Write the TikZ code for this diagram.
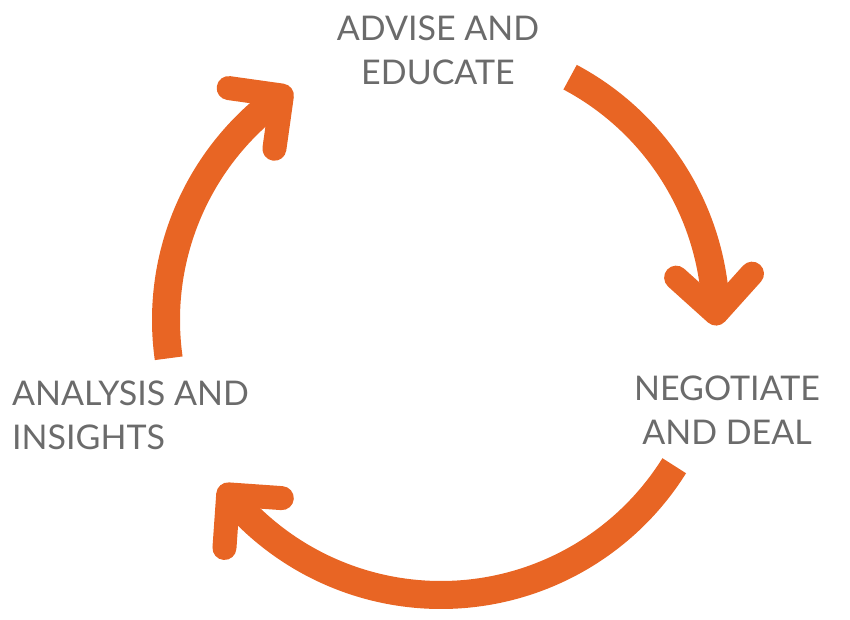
\documentclass[tikz,border=0pt]{standalone}
\usepackage{fontspec}
\setmainfont{Lato}
\definecolor{org}{HTML}{E86524}
\definecolor{txt}{HTML}{6B6B6B}
\begin{document}
\begin{tikzpicture}[x=1pt,y=1pt,
  ring/.style={draw=org,line width=28pt},
  chev/.style={draw=org,line width=24pt,line cap=round,line join=round},
  lbl/.style={text=txt,font=\fontsize{34}{44}\selectfont,inner sep=0pt}]
\useasboundingbox (0,0) rectangle (850,620);
\coordinate (c) at (441,300);
\draw[ring] ([shift={(62:275)}]c) arc (62:3:275) coordinate (e1);
\draw[ring] ([shift={(-32:275)}]c) arc (-32:-139:275) coordinate (e2);
\draw[ring] ([shift={(188:275)}]c) arc (188:127:275) coordinate (e3);
\begin{scope}[shift={(e1)},rotate=-87]
  \draw[chev] (-30,38) -- (8,0) -- (-30,-38);
\end{scope}
\begin{scope}[shift={(e2)},rotate=-229]
  \draw[chev] (-30,38) -- (8,0) -- (-30,-38);
\end{scope}
\begin{scope}[shift={(e3)},rotate=37]
  \draw[chev] (-30,38) -- (8,0) -- (-30,-38);
\end{scope}
\node[lbl,align=center] (t1) at (438,570) {ADVISE AND\\EDUCATE};
\node[lbl,align=left,anchor=west] (t2) at (12,205) {ANALYSIS AND\\INSIGHTS};
\node[lbl,align=center] (t3) at (727,210) {NEGOTIATE\\AND DEAL};
\end{tikzpicture}
\end{document}
